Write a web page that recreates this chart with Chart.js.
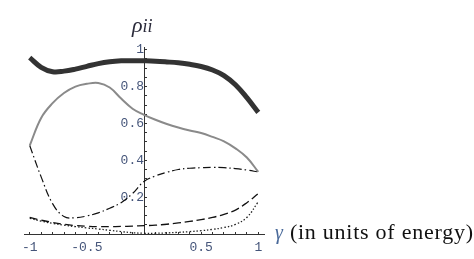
<!DOCTYPE html>
<html>
<head>
<meta charset="utf-8">
<script src="https://cdn.jsdelivr.net/npm/chart.js@4/dist/chart.umd.min.js"></script>
<style>
  html, body { margin: 0; padding: 0; background: #fff; }
  #wrap { position: relative; width: 474px; height: 259px; }
  #chart { position: absolute; left: 0; top: 0; }
  .lbl { position: absolute; font-family: "Liberation Serif", "Times New Roman", serif; white-space: nowrap; }
  #ylab { left: 132px; top: 12px; font-size: 22px; font-style: italic; color: #2a2a3a; }
  #xlab { left: 275px; top: 219px; font-size: 22px; letter-spacing: 0.75px; color: #111; }
  #xlab i { color: #4a6a9a; font-size: 20px; }
</style>
</head>
<body>
<div id="wrap">
  <canvas id="chart" width="474" height="259"></canvas>
  <div class="lbl" id="ylab">ρ<span style="font-size:18px">ii</span></div>
  <div class="lbl" id="xlab"><i>γ</i> (in units of energy)</div>
</div>
<script>
const gammas = [-1, -0.9, -0.8, -0.7, -0.6, -0.5, -0.4, -0.3, -0.2, -0.1, 0,
   0.1, 0.2, 0.3, 0.4, 0.5, 0.6, 0.7, 0.8, 0.9, 1]
const thick = [0.957, 0.905, 0.881, 0.884, 0.895, 0.91, 0.925, 0.935, 0.94, 0.941, 0.94,
   0.938, 0.934, 0.929, 0.921, 0.909, 0.89, 0.86, 0.81, 0.74, 0.66]
const gray = [0.48, 0.63, 0.71, 0.765, 0.80, 0.815, 0.82, 0.795, 0.735, 0.68, 0.647,
   0.62, 0.597, 0.578, 0.562, 0.548, 0.527, 0.503, 0.465, 0.415, 0.337]
const dashDot = [0.48, 0.31, 0.165, 0.095, 0.088, 0.098, 0.115, 0.14, 0.17, 0.22, 0.285,
   0.315, 0.335, 0.35, 0.357, 0.36, 0.362, 0.36, 0.355, 0.347, 0.337]
const dashed = [0.09, 0.075, 0.063, 0.053, 0.046, 0.042, 0.04, 0.04, 0.041, 0.043, 0.045,
   0.048, 0.053, 0.06, 0.068, 0.078, 0.09, 0.107, 0.13, 0.17, 0.22]
const dotted = [0.085, 0.07, 0.058, 0.048, 0.04, 0.033, 0.027, 0.02, 0.013, 0.007, 0.004,
   0.004, 0.006, 0.009, 0.013, 0.018, 0.025, 0.035, 0.052, 0.09, 0.175]

const xTicks = [-1, -0.9, -0.8, -0.7, -0.6, -0.5, -0.4, -0.3, -0.2, -0.1,
   0.1, 0.2, 0.3, 0.4, 0.5, 0.6, 0.7, 0.8, 0.9, 1]
const xTickLabels = {"-1": "-1", "-0.5": "-0.5", "0.5": "0.5", "1": "1"}
const yTicks = [0.05, 0.1, 0.15, 0.2, 0.25, 0.3, 0.35, 0.4, 0.45, 0.5,
   0.55, 0.6, 0.65, 0.7, 0.75, 0.8, 0.85, 0.9, 0.95, 1]
const yTickLabels = {"0.2": "0.2", "0.4": "0.4", "0.6": "0.6", "0.8": "0.8", "1": "1"}

const pts = arr => arr.map((v, i) => ({x: gammas[i], y: v}))

const tickFont = {family: "'Liberation Mono', monospace", size: 13}
const tickColor = "#45557a"

new Chart(document.getElementById("chart"), {
   type: "line",
   data: {
      datasets: [
         {data: pts(thick), borderColor: "#333", borderWidth: 5},
         {data: pts(gray), borderColor: "#8a8a8a", borderWidth: 2},
         {data: pts(dashDot), borderColor: "#111", borderWidth: 1.2, borderDash: [8, 3, 1.5, 3]},
         {data: pts(dashed), borderColor: "#111", borderWidth: 1.3, borderDash: [8, 4]},
         {data: pts(dotted), borderColor: "#222", borderWidth: 1.3, borderDash: [1.5, 2]},
      ]
   },
   options: {
      responsive: false,
      animation: false,
      layout: {padding: {left: 24, right: 210, top: 47, bottom: 25}},
      elements: {
         point: {radius: 0},
         line: {tension: 0.4, fill: false}
      },
      plugins: {legend: {display: false}, tooltip: {enabled: false}},
      scales: {
         x: {
            type: "linear",
            min: -1.05,
            max: 1.05,
            position: {y: 0},
            afterFit: s => { s.height = 0 },
            afterBuildTicks: s => { s.ticks = xTicks.map(v => ({value: v})) },
            grid: {drawOnChartArea: false, tickLength: -3, tickColor: "#333"},
            border: {color: "#333", width: 1},
            ticks: {
               autoSkip: false,
               maxRotation: 0,
               padding: 9,
               font: tickFont,
               color: tickColor,
               callback: v => xTickLabels[String(v)] || ""
            }
         },
         y: {
            min: 0,
            max: 1.015,
            position: {x: 0},
            afterFit: s => { s.width = 0 },
            afterBuildTicks: s => { s.ticks = yTicks.map(v => ({value: v})) },
            grid: {drawOnChartArea: false, tickLength: -3, tickColor: "#333"},
            border: {color: "#333", width: 1},
            ticks: {
               autoSkip: false,
               padding: 0,
               font: tickFont,
               color: tickColor,
               callback: v => yTickLabels[String(v)] || ""
            }
         }
      }
   }
})
</script>
</body>
</html>
